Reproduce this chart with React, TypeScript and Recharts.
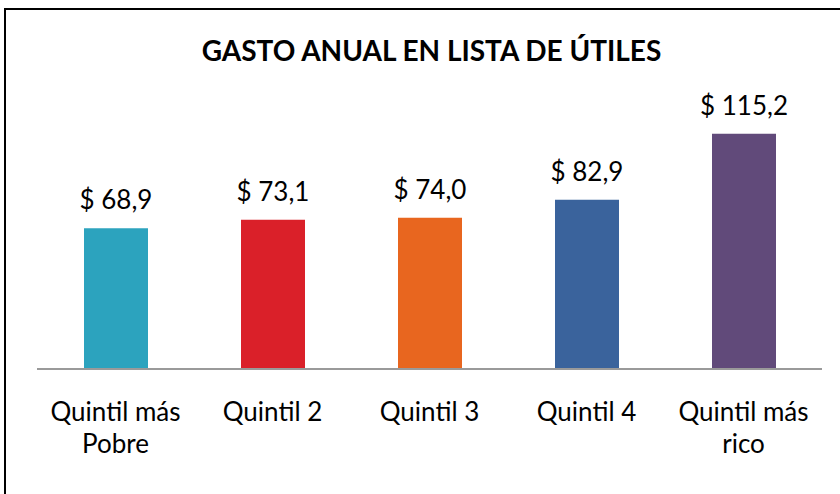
import { BarChart, Bar, XAxis, YAxis, Cell, LabelList } from 'recharts';

const categories = ['Quintil más Pobre', 'Quintil 2', 'Quintil 3', 'Quintil 4', 'Quintil más rico'];
const gasto = [68.9, 73.1, 74.0, 82.9, 115.2];
const colors = ['#2CA3BE', '#DA2029', '#E8661F', '#3A639C', '#614A7A'];

const data = categories.map((name, i) => ({ name, value: gasto[i] }));

const FONT = 'Lato, "Open Sans", sans-serif';

// wrap each category into lines of at most two words
function CategoryTick(props: any) {
  const { x, y, payload } = props;
  const words = String(payload.value).split(' ');
  const lines: string[] = [];
  for (let i = 0; i < words.length; i += 2) lines.push(words.slice(i, i + 2).join(' '));
  return (
    <text x={x} y={y + 52} textAnchor="middle" fill="#000" fontSize={26} fontFamily={FONT}>
      {lines.map((l, i) => (
        <tspan key={i} x={x} dy={i === 0 ? 0 : 32}>
          {l}
        </tspan>
      ))}
    </text>
  );
}

const fmt = (v: any) => '$ ' + Number(v).toFixed(1).replace('.', ',');

export default function App() {
  return (
    <div
      style={{
        position: 'fixed',
        left: 0,
        top: 0,
        width: 840,
        height: 494,
        overflow: 'hidden',
        background: '#fff',
      }}
    >
      <div
        style={{
          position: 'absolute',
          left: 4,
          top: 8,
          width: 900,
          height: 600,
          border: '2px solid #000',
        }}
      />
      <div
        style={{
          position: 'absolute',
          left: 0,
          top: 35,
          width: 863,
          textAlign: 'center',
          fontFamily: FONT,
          fontWeight: 700,
          fontSize: 28,
          color: '#000',
          lineHeight: '30px',
        }}
      >
        GASTO ANUAL EN LISTA DE ÚTILES
      </div>
      <div style={{ position: 'absolute', left: 0, top: 0 }}>
        <BarChart width={840} height={494} data={data} margin={{ top: 83, right: 18, bottom: 65, left: 37 }}>
          <YAxis hide domain={[0, 140]} />
          <XAxis
            dataKey="name"
            height={60}
            axisLine={{ stroke: '#9a9a9a', strokeWidth: 2 }}
            tickLine={false}
            tickSize={0}
            tickMargin={0}
            interval={0}
            tick={<CategoryTick />}
          />
          <Bar dataKey="value" barSize={64} isAnimationActive={false}>
            {data.map((d, i) => (
              <Cell key={d.name} fill={colors[i]} />
            ))}
            <LabelList
              dataKey="value"
              position="top"
              offset={19}
              formatter={fmt}
              fill="#000"
              fontSize={26}
              fontFamily={FONT}
            />
          </Bar>
        </BarChart>
      </div>
    </div>
  );
}
